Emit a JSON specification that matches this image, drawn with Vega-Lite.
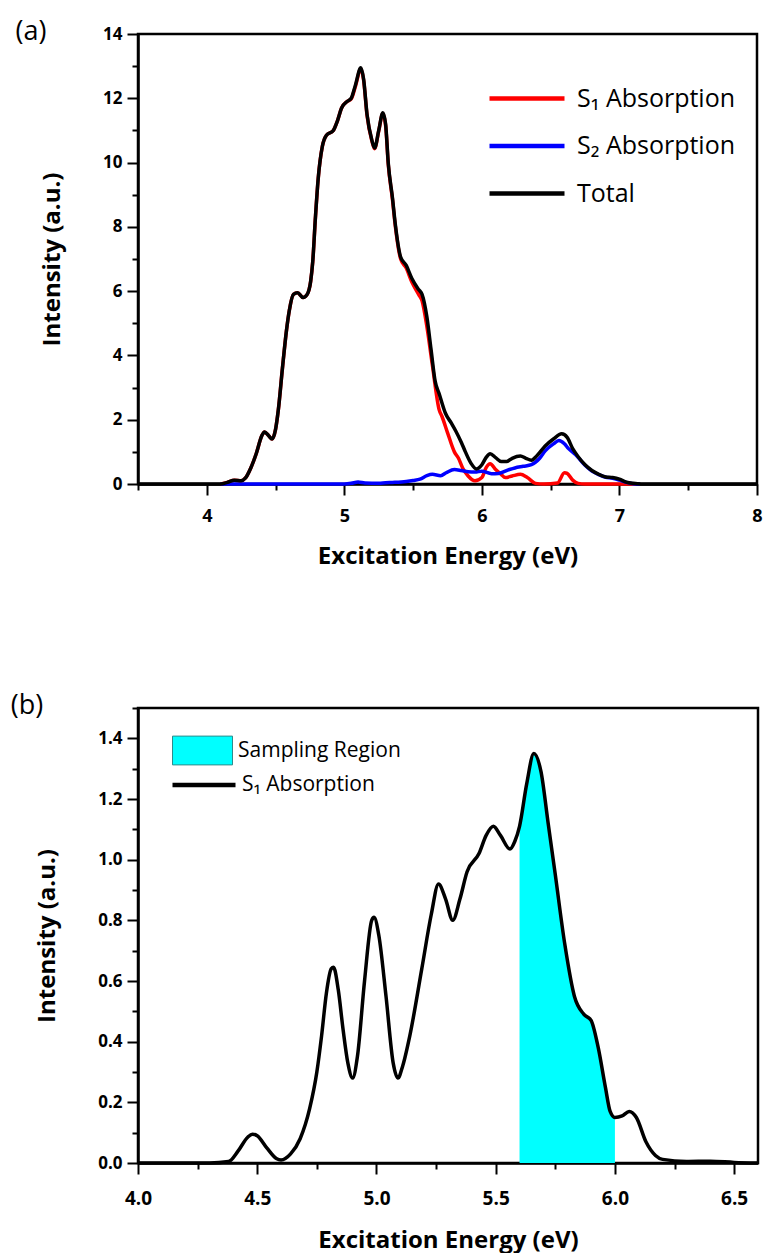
{
  "$schema": "https://vega.github.io/schema/vega-lite/v6.json",
  "background": "white",
  "padding": {"left": 9, "top": 16, "right": 5, "bottom": 2},
  "spacing": 120,
  "resolve": {"scale": {"stroke": "independent", "fill": "independent"}, "legend": {"stroke": "independent", "fill": "independent"}},
  "config": {
    "view": {"stroke": "black", "strokeWidth": 2.5},
    "axis": {"domainColor": "black", "domainWidth": 2.5, "tickColor": "black", "tickWidth": 2, "grid": false,
      "labelFont": "Open Sans", "labelFontWeight": "bold", "labelColor": "black", "labelFlush": false, "labelOverlap": false,
      "titleFont": "Open Sans", "titleFontWeight": "bold", "titleColor": "black"},
    "legend": {"labelFont": "Open Sans", "labelColor": "black", "labelLimit": 400, "padding": 0}
  },
  "datasets": {
    "a": [
      {"energy":4.1,"intensity":0,"series":"S₁ Absorption"},{"energy":4.15,"intensity":0.05,"series":"S₁ Absorption"},{"energy":4.2,"intensity":0.12,"series":"S₁ Absorption"},{"energy":4.25,"intensity":0.1,"series":"S₁ Absorption"},{"energy":4.28,"intensity":0.18,"series":"S₁ Absorption"},{"energy":4.32,"intensity":0.5,"series":"S₁ Absorption"},{"energy":4.36,"intensity":0.95,"series":"S₁ Absorption"},{"energy":4.4,"intensity":1.5,"series":"S₁ Absorption"},{"energy":4.42,"intensity":1.62,"series":"S₁ Absorption"},{"energy":4.45,"intensity":1.5,"series":"S₁ Absorption"},{"energy":4.475,"intensity":1.4,"series":"S₁ Absorption"},{"energy":4.5,"intensity":1.7,"series":"S₁ Absorption"},{"energy":4.52,"intensity":2.3,"series":"S₁ Absorption"},{"energy":4.55,"intensity":3.6,"series":"S₁ Absorption"},{"energy":4.58,"intensity":4.8,"series":"S₁ Absorption"},{"energy":4.6,"intensity":5.4,"series":"S₁ Absorption"},{"energy":4.63,"intensity":5.9,"series":"S₁ Absorption"},{"energy":4.66,"intensity":5.95,"series":"S₁ Absorption"},{"energy":4.7,"intensity":5.8,"series":"S₁ Absorption"},{"energy":4.73,"intensity":5.9,"series":"S₁ Absorption"},{"energy":4.755,"intensity":6.3,"series":"S₁ Absorption"},{"energy":4.77,"intensity":6.9,"series":"S₁ Absorption"},{"energy":4.79,"intensity":8.3,"series":"S₁ Absorption"},{"energy":4.81,"intensity":9.5,"series":"S₁ Absorption"},{"energy":4.84,"intensity":10.5,"series":"S₁ Absorption"},{"energy":4.87,"intensity":10.85,"series":"S₁ Absorption"},{"energy":4.92,"intensity":11.0,"series":"S₁ Absorption"},{"energy":4.95,"intensity":11.3,"series":"S₁ Absorption"},{"energy":4.98,"intensity":11.7,"series":"S₁ Absorption"},{"energy":5.02,"intensity":11.9,"series":"S₁ Absorption"},{"energy":5.05,"intensity":11.98,"series":"S₁ Absorption"},{"energy":5.08,"intensity":12.36,"series":"S₁ Absorption"},{"energy":5.12,"intensity":12.92,"series":"S₁ Absorption"},{"energy":5.14,"intensity":12.57,"series":"S₁ Absorption"},{"energy":5.165,"intensity":11.47,"series":"S₁ Absorption"},{"energy":5.2,"intensity":10.68,"series":"S₁ Absorption"},{"energy":5.22,"intensity":10.43,"series":"S₁ Absorption"},{"energy":5.25,"intensity":10.98,"series":"S₁ Absorption"},{"energy":5.28,"intensity":11.53,"series":"S₁ Absorption"},{"energy":5.3,"intensity":11.16,"series":"S₁ Absorption"},{"energy":5.32,"intensity":9.91,"series":"S₁ Absorption"},{"energy":5.35,"intensity":8.85,"series":"S₁ Absorption"},{"energy":5.37,"intensity":8.05,"series":"S₁ Absorption"},{"energy":5.41,"intensity":6.99,"series":"S₁ Absorption"},{"energy":5.45,"intensity":6.72,"series":"S₁ Absorption"},{"energy":5.49,"intensity":6.29,"series":"S₁ Absorption"},{"energy":5.54,"intensity":5.9,"series":"S₁ Absorption"},{"energy":5.565,"intensity":5.7,"series":"S₁ Absorption"},{"energy":5.6,"intensity":4.9,"series":"S₁ Absorption"},{"energy":5.64,"intensity":3.7,"series":"S₁ Absorption"},{"energy":5.69,"intensity":2.3,"series":"S₁ Absorption"},{"energy":5.71,"intensity":2.1,"series":"S₁ Absorption"},{"energy":5.75,"intensity":1.6,"series":"S₁ Absorption"},{"energy":5.8,"intensity":1.0,"series":"S₁ Absorption"},{"energy":5.83,"intensity":0.8,"series":"S₁ Absorption"},{"energy":5.86,"intensity":0.5,"series":"S₁ Absorption"},{"energy":5.9,"intensity":0.25,"series":"S₁ Absorption"},{"energy":5.95,"intensity":0.1,"series":"S₁ Absorption"},{"energy":6.0,"intensity":0.2,"series":"S₁ Absorption"},{"energy":6.03,"intensity":0.5,"series":"S₁ Absorption"},{"energy":6.06,"intensity":0.63,"series":"S₁ Absorption"},{"energy":6.1,"intensity":0.45,"series":"S₁ Absorption"},{"energy":6.14,"intensity":0.3,"series":"S₁ Absorption"},{"energy":6.17,"intensity":0.2,"series":"S₁ Absorption"},{"energy":6.22,"intensity":0.25,"series":"S₁ Absorption"},{"energy":6.28,"intensity":0.3,"series":"S₁ Absorption"},{"energy":6.33,"intensity":0.2,"series":"S₁ Absorption"},{"energy":6.39,"intensity":0.02,"series":"S₁ Absorption"},{"energy":6.45,"intensity":0,"series":"S₁ Absorption"},{"energy":6.55,"intensity":0.03,"series":"S₁ Absorption"},{"energy":6.6,"intensity":0.35,"series":"S₁ Absorption"},{"energy":6.62,"intensity":0.33,"series":"S₁ Absorption"},{"energy":6.66,"intensity":0.12,"series":"S₁ Absorption"},{"energy":6.7,"intensity":0.02,"series":"S₁ Absorption"},{"energy":6.75,"intensity":0,"series":"S₁ Absorption"},{"energy":7.12,"intensity":0,"series":"S₁ Absorption"},
      {"energy":4.1,"intensity":0,"series":"S₂ Absorption"},{"energy":5.0,"intensity":0,"series":"S₂ Absorption"},{"energy":5.05,"intensity":0.02,"series":"S₂ Absorption"},{"energy":5.1,"intensity":0.06,"series":"S₂ Absorption"},{"energy":5.15,"intensity":0.03,"series":"S₂ Absorption"},{"energy":5.25,"intensity":0.02,"series":"S₂ Absorption"},{"energy":5.3,"intensity":0.04,"series":"S₂ Absorption"},{"energy":5.35,"intensity":0.05,"series":"S₂ Absorption"},{"energy":5.45,"intensity":0.08,"series":"S₂ Absorption"},{"energy":5.5,"intensity":0.11,"series":"S₂ Absorption"},{"energy":5.55,"intensity":0.15,"series":"S₂ Absorption"},{"energy":5.6,"intensity":0.26,"series":"S₂ Absorption"},{"energy":5.64,"intensity":0.3,"series":"S₂ Absorption"},{"energy":5.7,"intensity":0.26,"series":"S₂ Absorption"},{"energy":5.74,"intensity":0.35,"series":"S₂ Absorption"},{"energy":5.8,"intensity":0.45,"series":"S₂ Absorption"},{"energy":5.85,"intensity":0.42,"series":"S₂ Absorption"},{"energy":5.9,"intensity":0.38,"series":"S₂ Absorption"},{"energy":5.95,"intensity":0.37,"series":"S₂ Absorption"},{"energy":6.0,"intensity":0.4,"series":"S₂ Absorption"},{"energy":6.07,"intensity":0.32,"series":"S₂ Absorption"},{"energy":6.12,"intensity":0.33,"series":"S₂ Absorption"},{"energy":6.2,"intensity":0.45,"series":"S₂ Absorption"},{"energy":6.24,"intensity":0.5,"series":"S₂ Absorption"},{"energy":6.3,"intensity":0.55,"series":"S₂ Absorption"},{"energy":6.36,"intensity":0.6,"series":"S₂ Absorption"},{"energy":6.42,"intensity":0.8,"series":"S₂ Absorption"},{"energy":6.46,"intensity":1.03,"series":"S₂ Absorption"},{"energy":6.52,"intensity":1.25,"series":"S₂ Absorption"},{"energy":6.56,"intensity":1.35,"series":"S₂ Absorption"},{"energy":6.6,"intensity":1.25,"series":"S₂ Absorption"},{"energy":6.63,"intensity":1.1,"series":"S₂ Absorption"},{"energy":6.68,"intensity":0.92,"series":"S₂ Absorption"},{"energy":6.75,"intensity":0.58,"series":"S₂ Absorption"},{"energy":6.8,"intensity":0.4,"series":"S₂ Absorption"},{"energy":6.85,"intensity":0.29,"series":"S₂ Absorption"},{"energy":6.9,"intensity":0.21,"series":"S₂ Absorption"},{"energy":6.95,"intensity":0.18,"series":"S₂ Absorption"},{"energy":7.0,"intensity":0.12,"series":"S₂ Absorption"},{"energy":7.05,"intensity":0.05,"series":"S₂ Absorption"},{"energy":7.1,"intensity":0.01,"series":"S₂ Absorption"},{"energy":7.15,"intensity":0,"series":"S₂ Absorption"},
      {"energy":3.5,"intensity":0,"series":"Total"},{"energy":4.0,"intensity":0,"series":"Total"},{"energy":4.1,"intensity":0,"series":"Total"},{"energy":4.15,"intensity":0.05,"series":"Total"},{"energy":4.2,"intensity":0.12,"series":"Total"},{"energy":4.25,"intensity":0.1,"series":"Total"},{"energy":4.28,"intensity":0.18,"series":"Total"},{"energy":4.32,"intensity":0.5,"series":"Total"},{"energy":4.36,"intensity":0.95,"series":"Total"},{"energy":4.4,"intensity":1.5,"series":"Total"},{"energy":4.42,"intensity":1.62,"series":"Total"},{"energy":4.45,"intensity":1.5,"series":"Total"},{"energy":4.475,"intensity":1.4,"series":"Total"},{"energy":4.5,"intensity":1.7,"series":"Total"},{"energy":4.52,"intensity":2.3,"series":"Total"},{"energy":4.55,"intensity":3.6,"series":"Total"},{"energy":4.58,"intensity":4.8,"series":"Total"},{"energy":4.6,"intensity":5.4,"series":"Total"},{"energy":4.63,"intensity":5.9,"series":"Total"},{"energy":4.66,"intensity":5.95,"series":"Total"},{"energy":4.7,"intensity":5.8,"series":"Total"},{"energy":4.73,"intensity":5.9,"series":"Total"},{"energy":4.755,"intensity":6.3,"series":"Total"},{"energy":4.77,"intensity":6.9,"series":"Total"},{"energy":4.79,"intensity":8.3,"series":"Total"},{"energy":4.81,"intensity":9.5,"series":"Total"},{"energy":4.84,"intensity":10.5,"series":"Total"},{"energy":4.87,"intensity":10.85,"series":"Total"},{"energy":4.92,"intensity":11.0,"series":"Total"},{"energy":4.95,"intensity":11.3,"series":"Total"},{"energy":4.98,"intensity":11.7,"series":"Total"},{"energy":5.02,"intensity":11.9,"series":"Total"},{"energy":5.05,"intensity":12.0,"series":"Total"},{"energy":5.08,"intensity":12.4,"series":"Total"},{"energy":5.12,"intensity":12.95,"series":"Total"},{"energy":5.14,"intensity":12.6,"series":"Total"},{"energy":5.165,"intensity":11.5,"series":"Total"},{"energy":5.2,"intensity":10.7,"series":"Total"},{"energy":5.22,"intensity":10.45,"series":"Total"},{"energy":5.25,"intensity":11.0,"series":"Total"},{"energy":5.28,"intensity":11.55,"series":"Total"},{"energy":5.3,"intensity":11.2,"series":"Total"},{"energy":5.32,"intensity":9.95,"series":"Total"},{"energy":5.35,"intensity":8.9,"series":"Total"},{"energy":5.37,"intensity":8.1,"series":"Total"},{"energy":5.41,"intensity":7.05,"series":"Total"},{"energy":5.45,"intensity":6.8,"series":"Total"},{"energy":5.49,"intensity":6.4,"series":"Total"},{"energy":5.54,"intensity":6.05,"series":"Total"},{"energy":5.565,"intensity":5.9,"series":"Total"},{"energy":5.6,"intensity":5.2,"series":"Total"},{"energy":5.63,"intensity":4.2,"series":"Total"},{"energy":5.66,"intensity":3.2,"series":"Total"},{"energy":5.69,"intensity":2.8,"series":"Total"},{"energy":5.735,"intensity":2.2,"series":"Total"},{"energy":5.78,"intensity":1.88,"series":"Total"},{"energy":5.81,"intensity":1.65,"series":"Total"},{"energy":5.85,"intensity":1.3,"series":"Total"},{"energy":5.88,"intensity":1.0,"series":"Total"},{"energy":5.92,"intensity":0.65,"series":"Total"},{"energy":5.96,"intensity":0.47,"series":"Total"},{"energy":6.0,"intensity":0.6,"series":"Total"},{"energy":6.03,"intensity":0.82,"series":"Total"},{"energy":6.06,"intensity":0.94,"series":"Total"},{"energy":6.1,"intensity":0.82,"series":"Total"},{"energy":6.14,"intensity":0.7,"series":"Total"},{"energy":6.18,"intensity":0.7,"series":"Total"},{"energy":6.22,"intensity":0.8,"series":"Total"},{"energy":6.28,"intensity":0.87,"series":"Total"},{"energy":6.32,"intensity":0.8,"series":"Total"},{"energy":6.36,"intensity":0.74,"series":"Total"},{"energy":6.4,"intensity":0.88,"series":"Total"},{"energy":6.46,"intensity":1.18,"series":"Total"},{"energy":6.52,"intensity":1.4,"series":"Total"},{"energy":6.58,"intensity":1.56,"series":"Total"},{"energy":6.62,"intensity":1.45,"series":"Total"},{"energy":6.66,"intensity":1.1,"series":"Total"},{"energy":6.7,"intensity":0.85,"series":"Total"},{"energy":6.75,"intensity":0.6,"series":"Total"},{"energy":6.8,"intensity":0.42,"series":"Total"},{"energy":6.85,"intensity":0.3,"series":"Total"},{"energy":6.9,"intensity":0.22,"series":"Total"},{"energy":6.95,"intensity":0.2,"series":"Total"},{"energy":7.0,"intensity":0.15,"series":"Total"},{"energy":7.05,"intensity":0.06,"series":"Total"},{"energy":7.1,"intensity":0.02,"series":"Total"},{"energy":7.16,"intensity":0,"series":"Total"},{"energy":7.5,"intensity":0,"series":"Total"},{"energy":8.0,"intensity":0,"series":"Total"}
    ],
    "b": [
      {"energy":4.0,"intensity":0},{"energy":4.3,"intensity":0},{"energy":4.38,"intensity":0.005},{"energy":4.42,"intensity":0.04},{"energy":4.46,"intensity":0.085},{"energy":4.48,"intensity":0.095},{"energy":4.5,"intensity":0.09},{"energy":4.54,"intensity":0.05},{"energy":4.58,"intensity":0.015},{"energy":4.6,"intensity":0.01},{"energy":4.64,"intensity":0.03},{"energy":4.68,"intensity":0.08},{"energy":4.72,"intensity":0.18},{"energy":4.75,"intensity":0.3},{"energy":4.77,"intensity":0.42},{"energy":4.79,"intensity":0.56},{"energy":4.81,"intensity":0.64},{"energy":4.82,"intensity":0.645},{"energy":4.84,"intensity":0.57},{"energy":4.86,"intensity":0.44},{"energy":4.88,"intensity":0.33},{"energy":4.9,"intensity":0.28},{"energy":4.92,"intensity":0.35},{"energy":4.95,"intensity":0.6},{"energy":4.98,"intensity":0.8},{"energy":4.99,"intensity":0.81},{"energy":5.01,"intensity":0.75},{"energy":5.04,"intensity":0.55},{"energy":5.07,"intensity":0.33},{"energy":5.09,"intensity":0.28},{"energy":5.11,"intensity":0.32},{"energy":5.14,"intensity":0.42},{"energy":5.19,"intensity":0.64},{"energy":5.23,"intensity":0.82},{"energy":5.26,"intensity":0.92},{"energy":5.29,"intensity":0.87},{"energy":5.32,"intensity":0.8},{"energy":5.35,"intensity":0.87},{"energy":5.38,"intensity":0.96},{"energy":5.43,"intensity":1.02},{"energy":5.46,"intensity":1.08},{"energy":5.49,"intensity":1.11},{"energy":5.52,"intensity":1.08},{"energy":5.56,"intensity":1.035},{"energy":5.58,"intensity":1.06},{"energy":5.6,"intensity":1.11},{"energy":5.63,"intensity":1.25},{"energy":5.66,"intensity":1.35},{"energy":5.69,"intensity":1.29},{"energy":5.72,"intensity":1.12},{"energy":5.75,"intensity":0.95},{"energy":5.79,"intensity":0.72},{"energy":5.83,"intensity":0.55},{"energy":5.87,"intensity":0.49},{"energy":5.9,"intensity":0.47},{"energy":5.93,"intensity":0.38},{"energy":5.96,"intensity":0.25},{"energy":5.98,"intensity":0.17},{"energy":6.0,"intensity":0.15},{"energy":6.03,"intensity":0.155},{"energy":6.06,"intensity":0.17},{"energy":6.09,"intensity":0.15},{"energy":6.13,"intensity":0.07},{"energy":6.17,"intensity":0.025},{"energy":6.2,"intensity":0.012},{"energy":6.3,"intensity":0.005},{"energy":6.4,"intensity":0.006},{"energy":6.5,"intensity":0.002},{"energy":6.6,"intensity":0}
    ]
  },
  "vconcat": [
    {
      "width": 619, "height": 450,
      "title": {"text": "(a)", "anchor": "start", "frame": "bounds", "font": "Open Sans", "fontSize": 27, "fontWeight": "normal", "color": "black", "baseline": "middle", "offset": 0, "dx": -25, "dy": 34},
      "data": {"name": "a"},
      "mark": {"type": "line", "interpolate": "monotone", "strokeWidth": 3.5},
      "encoding": {
        "x": {"field": "energy", "type": "quantitative", "title": "Excitation Energy (eV)",
          "scale": {"domain": [3.5, 8], "nice": false, "zero": false},
          "axis": {"values": [3.5,4,4.5,5,5.5,6,6.5,7,7.5,8], "format": "~g", "labelExpr": "datum.value % 1 === 0 ? datum.label : ''",
            "tickSize": {"condition": {"test": "datum.value % 1 === 0", "value": 11}, "value": 6},
            "labelFontSize": 18, "labelPadding": 12, "titleFontSize": 24, "titlePadding": 19}},
        "y": {"field": "intensity", "type": "quantitative", "title": "Intensity (a.u.)",
          "scale": {"domain": [0, 14], "nice": false},
          "axis": {"values": [0,1,2,3,4,5,6,7,8,9,10,11,12,13,14], "labelExpr": "datum.value % 2 === 0 ? datum.label : ''",
            "tickSize": {"condition": {"test": "datum.value % 2 === 0", "value": 11}, "value": 6},
            "labelFontSize": 17, "labelPadding": 5, "titleFontSize": 24, "titlePadding": 38}},
        "stroke": {"field": "series", "type": "nominal",
          "scale": {"domain": ["S₁ Absorption", "S₂ Absorption", "Total"], "range": ["#FF0000", "#0000FF", "#000000"]},
          "legend": {"title": null, "orient": "none", "legendX": 404, "legendY": 52, "symbolType": "M-6.5,0H1", "symbolSize": 400, "symbolStrokeWidth": 4.5, "labelFontSize": 25, "labelOffset": 10, "rowPadding": 21.5}}
      }
    },
    {
      "width": 620, "height": 455,
      "title": {"text": "(b)", "anchor": "start", "frame": "bounds", "font": "Open Sans", "fontSize": 27, "fontWeight": "normal", "color": "black", "baseline": "middle", "offset": 0, "dx": -25, "dy": 34},
      "data": {"name": "b"},
      "encoding": {
        "x": {"field": "energy", "type": "quantitative", "title": "Excitation Energy (eV)",
          "scale": {"domain": [4.0, 6.6], "nice": false, "zero": false},
          "axis": {"values": [4,4.25,4.5,4.75,5,5.25,5.5,5.75,6,6.25,6.5], "format": ".1f", "labelExpr": "round(datum.value*4) % 2 === 0 ? datum.label : ''",
            "tickSize": {"condition": {"test": "round(datum.value*4) % 2 === 0", "value": 11}, "value": 6},
            "labelFontSize": 19, "labelPadding": 15, "titleFontSize": 24, "titlePadding": 20}},
        "y": {"field": "intensity", "type": "quantitative", "title": "Intensity (a.u.)",
          "scale": {"domain": [0, 1.5], "nice": false},
          "axis": {"values": [0,0.1,0.2,0.3,0.4,0.5,0.6,0.7,0.8,0.9,1.0,1.1,1.2,1.3,1.4,1.5], "format": ".1f", "labelExpr": "round(datum.value*10) % 2 === 0 ? datum.label : ''",
            "tickSize": {"condition": {"test": "round(datum.value*10) % 2 === 0", "value": 11}, "value": 6},
            "labelFontSize": 17, "labelPadding": 5, "titleFontSize": 24, "titlePadding": 38}}
      },
      "layer": [
        {
          "transform": [{"filter": {"field": "energy", "range": [5.6, 6.0]}}],
          "mark": {"type": "area", "interpolate": "monotone"},
          "encoding": {
            "fill": {"datum": "Sampling Region", "type": "nominal", "scale": {"range": ["#00FFFF"]},
              "legend": {"title": null, "orient": "none", "legendX": 34, "legendY": 12, "symbolType": "M-1,-0.48H1V0.48H-1Z", "symbolSize": 3600, "labelFontSize": 21, "labelOffset": 5,
                "symbolStrokeColor": "#2e8b8b", "symbolStrokeWidth": 1, "symbolOpacity": 1}}
          }
        },
        {
          "mark": {"type": "line", "interpolate": "monotone", "strokeWidth": 3.5},
          "encoding": {
            "stroke": {"datum": "S₁ Absorption", "type": "nominal", "scale": {"range": ["#000000"]},
              "legend": {"title": null, "orient": "none", "legendX": 32, "legendY": 43, "symbolType": "M-1,0H1", "symbolSize": 3969, "symbolStrokeWidth": 4.5, "labelFontSize": 21, "labelOffset": 4}}
          }
        }
      ]
    }
  ]
}
